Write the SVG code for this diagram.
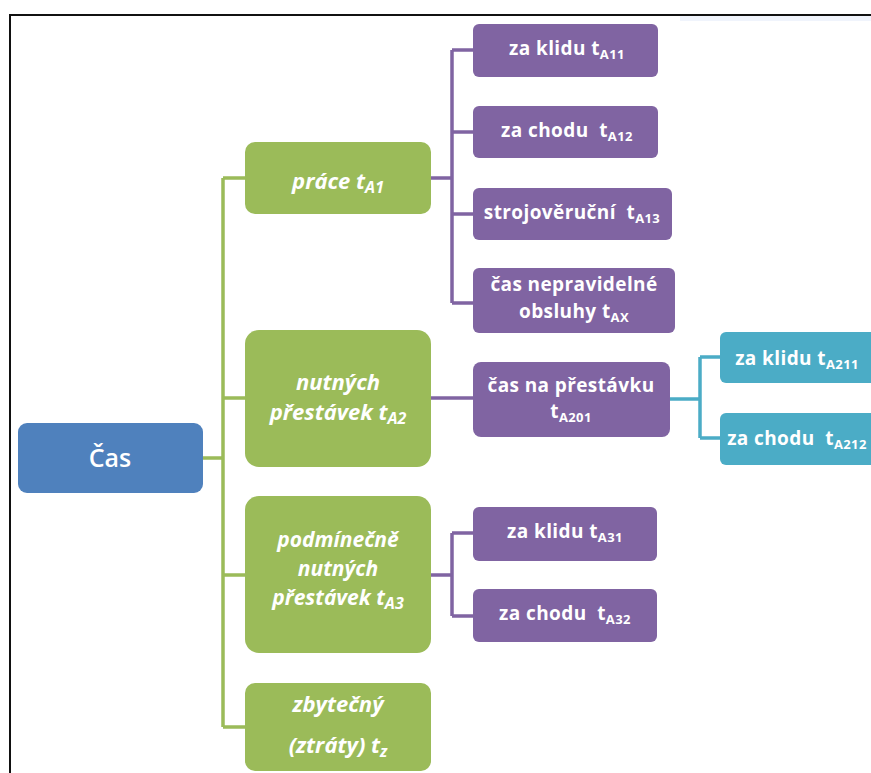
<svg xmlns="http://www.w3.org/2000/svg" width="871" height="773" viewBox="0 0 871 773">
<style>
.t{font-family:"Open Sans","Liberation Sans",sans-serif;fill:#fff;font-weight:bold;text-anchor:middle;font-size:19px;letter-spacing:0.4px}
.g{font-style:italic;font-size:22px;letter-spacing:0}
.g2{font-size:21px}
.s{font-size:13px}
.gs{font-size:16px}
.green{fill:#9bbb59}
.purple{fill:#8064a2}
.teal{fill:#4bacc6}
.cg{stroke:#9bbb59;stroke-width:3.5;fill:none}
.cp{stroke:#8064a2;stroke-width:3.5;fill:none}
.ct{stroke:#4bacc6;stroke-width:3.5;fill:none}
</style>
<rect x="0" y="0" width="871" height="773" fill="#fff"/>
<rect x="680" y="16" width="191" height="5" fill="#f0f4fc"/>
<path d="M10 773 V15 H871" stroke="#111" stroke-width="2" fill="none"/>

<g id="connectors">
<path class="cg" d="M203 458 H223 M223 178 V727 M223 178 H245 M223 398 H245 M223 575 H245 M223 727 H245"/>
<path class="cp" d="M431 178 H452 M452 50 V303 M452 50 H473 M452 132 H473 M452 214 H473 M452 303 H473"/>
<path class="cp" d="M431 398 H473"/>
<path class="cp" d="M431 575 H452 M452 533 V616 M452 533 H473 M452 616 H473"/>
<path class="ct" d="M670 399 H700 M700 357 V438 M700 357 H720 M700 438 H720"/>
</g>

<g id="cas">
<rect x="18" y="423" width="185" height="70" rx="9" fill="#4f81bd"/>
<text class="t" x="110" y="467" style="font-size:25px;font-weight:600;letter-spacing:0">Čas</text>
</g>

<g id="prace">
<rect class="green" x="245" y="142" width="186" height="72" rx="10"/>
<text class="t g" x="338" y="189">práce t<tspan class="gs" dy="4">A1</tspan></text>
</g>
<g id="nutnych">
<rect class="green" x="245" y="330" width="186" height="137" rx="14"/>
<text class="t g" x="338" y="390">nutných</text>
<text class="t g" x="338" y="420">přestávek t<tspan class="gs" dy="4">A2</tspan></text>
</g>
<g id="podminecne">
<rect class="green" x="245" y="496" width="186" height="157" rx="14"/>
<text class="t g g2" x="338" y="547">podmínečně</text>
<text class="t g g2" x="338" y="576">nutných</text>
<text class="t g g2" x="338" y="605">přestávek t<tspan class="gs" dy="4">A3</tspan></text>
</g>
<g id="zbytecny">
<rect class="green" x="245" y="683" width="186" height="88" rx="10"/>
<text class="t g" x="338" y="712">zbytečný</text>
<text class="t g" x="338" y="753">(ztráty) t<tspan class="gs" dy="4">z</tspan></text>
</g>

<g id="tA11">
<rect class="purple" x="473" y="24" width="185" height="53" rx="6"/>
<text class="t" x="567" y="55">za klidu t<tspan class="s" dy="4">A11</tspan></text>
</g>
<g id="tA12">
<rect class="purple" x="473" y="106" width="185" height="52" rx="6"/>
<text class="t" x="567" y="137" xml:space="preserve">za chodu  t<tspan class="s" dy="4">A12</tspan></text>
</g>
<g id="tA13">
<rect class="purple" x="473" y="188" width="199" height="52" rx="6"/>
<text class="t" x="572" y="219" xml:space="preserve">strojověruční  t<tspan class="s" dy="4">A13</tspan></text>
</g>
<g id="tAX">
<rect class="purple" x="473" y="268" width="202" height="65" rx="6"/>
<text class="t" x="574" y="291">čas nepravidelné</text>
<text class="t" x="574" y="318">obsluhy t<tspan class="s" dy="4">AX</tspan></text>
</g>
<g id="tA201">
<rect class="purple" x="473" y="362" width="197" height="75" rx="8"/>
<text class="t" x="571" y="392">čas na přestávku</text>
<text class="t" x="571" y="418">t<tspan class="s" dy="4">A201</tspan></text>
</g>
<g id="tA211">
<rect class="teal" x="720" y="332" width="160" height="51" rx="6"/>
<text class="t" x="797" y="365">za klidu t<tspan class="s" dy="4">A211</tspan></text>
</g>
<g id="tA212">
<rect class="teal" x="720" y="413" width="160" height="52" rx="6"/>
<text class="t" x="797" y="445" xml:space="preserve">za chodu  t<tspan class="s" dy="4">A212</tspan></text>
</g>
<g id="tA31">
<rect class="purple" x="473" y="507" width="184" height="54" rx="6"/>
<text class="t" x="565" y="538">za klidu t<tspan class="s" dy="4">A31</tspan></text>
</g>
<g id="tA32">
<rect class="purple" x="473" y="589" width="184" height="53" rx="6"/>
<text class="t" x="565" y="620" xml:space="preserve">za chodu  t<tspan class="s" dy="4">A32</tspan></text>
</g>
</svg>
